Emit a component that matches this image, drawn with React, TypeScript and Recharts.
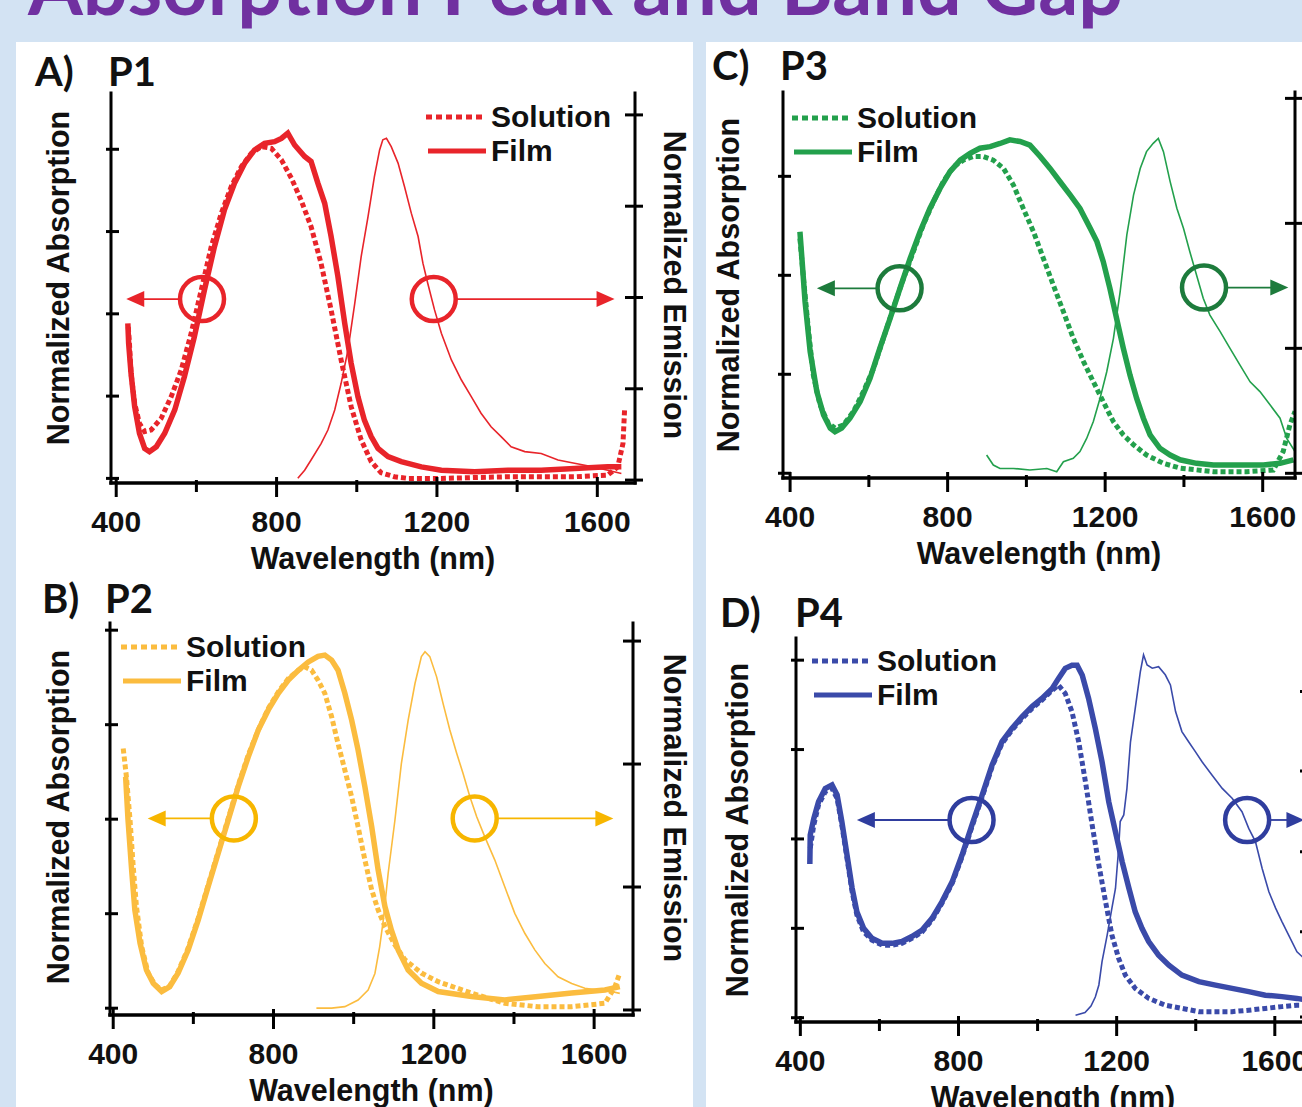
import React from "react";
import { ComposedChart, Line, XAxis, YAxis, ReferenceDot, ReferenceLine, Legend } from "recharts";

type Pt = [number, number];

const FONT = "'Liberation Sans', Arial, sans-serif";
const HEAD_FONT = "Lato, 'Open Sans', sans-serif";

const X_TICKS = [400, 600, 800, 1000, 1200, 1400, 1600];
const X_LABELS = [400, 800, 1200, 1600];

// P1 - wavelength (nm), normalized value
const p1Solution: Pt[] = [[430,0.46],[433,0.410],[437,0.319],[446,0.228],[458,0.167],[471,0.142],[487,0.147],[512,0.182],[537,0.248],[562,0.329],[587,0.441],[612,0.572],[637,0.704],[662,0.805],[687,0.887],[712,0.947],[737,0.988],[762,1.008],[787,1.003],[812,0.968],[837,0.912],[861,0.846],[886,0.765],[911,0.653],[936,0.512],[961,0.360],[986,0.218],[1011,0.117],[1036,0.051],[1061,0.017],[1094,0.005],[1128,0],[1211,0],[1377,0.005],[1543,0.005],[1626,0.010],[1651,0.035],[1664,0.106],[1668,0.208]];
const p1Film: Pt[] = [[429,0.471],[431,0.410],[437,0.319],[446,0.218],[458,0.137],[471,0.091],[483,0.081],[500,0.096],[521,0.137],[546,0.208],[570,0.309],[595,0.431],[620,0.572],[645,0.704],[670,0.816],[695,0.897],[720,0.957],[745,0.998],[770,1.018],[795,1.023],[812,1.033],[828,1.049],[845,1.013],[870,0.978],[886,0.963],[903,0.897],[920,0.836],[936,0.735],[953,0.613],[970,0.471],[986,0.350],[1003,0.248],[1019,0.177],[1036,0.127],[1053,0.091],[1078,0.066],[1111,0.051],[1161,0.035],[1211,0.025],[1294,0.020],[1377,0.025],[1460,0.025],[1543,0.030],[1626,0.035],[1660,0.035]];
const p1Emission: Pt[] = [[853,0.005],[870,0.027],[886,0.055],[911,0.100],[928,0.137],[945,0.192],[961,0.265],[978,0.356],[995,0.484],[1011,0.612],[1028,0.721],[1044,0.831],[1057,0.904],[1065,0.932],[1074,0.936],[1086,0.913],[1103,0.868],[1119,0.804],[1136,0.731],[1153,0.667],[1165,0.594],[1177,0.539],[1194,0.466],[1211,0.402],[1236,0.329],[1261,0.274],[1286,0.228],[1310,0.183],[1335,0.146],[1360,0.119],[1385,0.091],[1419,0.078],[1460,0.073],[1502,0.055],[1543,0.046],[1585,0.037],[1626,0.027],[1660,0.018]];
const p1Circles: Pt[] = [[614,0.545],[1192,0.545]];
const p1Arrows: [number, number, number][] = [[556,425,0.545],[1248,1643,0.545]];

// P2
const p2Solution: Pt[] = [[425,0.687],[433,0.612],[442,0.498],[450,0.374],[458,0.269],[471,0.163],[487,0.093],[504,0.062],[521,0.048],[541,0.059],[562,0.097],[587,0.159],[612,0.238],[637,0.326],[662,0.414],[687,0.502],[712,0.590],[737,0.670],[762,0.736],[787,0.793],[812,0.837],[837,0.872],[862,0.894],[878,0.903],[895,0.894],[911,0.868],[928,0.833],[945,0.771],[961,0.700],[978,0.630],[995,0.559],[1011,0.480],[1028,0.392],[1045,0.313],[1061,0.260],[1078,0.216],[1103,0.167],[1128,0.128],[1169,0.093],[1211,0.070],[1294,0.040],[1377,0.013],[1460,0.004],[1544,0.004],[1627,0.013],[1652,0.057],[1664,0.093]];
const p2Film: Pt[] = [[431,0.612],[437,0.498],[446,0.366],[454,0.260],[467,0.172],[483,0.101],[500,0.066],[521,0.044],[541,0.057],[562,0.093],[587,0.154],[612,0.233],[637,0.322],[662,0.410],[687,0.498],[712,0.586],[737,0.665],[762,0.736],[787,0.789],[812,0.833],[837,0.868],[862,0.894],[887,0.916],[911,0.931],[928,0.934],[945,0.921],[961,0.894],[978,0.833],[995,0.762],[1011,0.683],[1028,0.586],[1045,0.480],[1061,0.366],[1078,0.269],[1094,0.207],[1111,0.154],[1136,0.101],[1169,0.066],[1211,0.044],[1294,0.031],[1377,0.022],[1460,0.031],[1544,0.040],[1627,0.048],[1664,0.057]];
const p2Emission: Pt[] = [[907,0.005],[945,0.005],[978,0.009],[1011,0.027],[1036,0.054],[1053,0.099],[1065,0.172],[1074,0.244],[1086,0.370],[1103,0.515],[1119,0.668],[1136,0.786],[1153,0.885],[1169,0.958],[1178,0.971],[1190,0.958],[1207,0.903],[1223,0.831],[1240,0.759],[1257,0.696],[1273,0.641],[1290,0.578],[1307,0.524],[1327,0.470],[1352,0.407],[1377,0.334],[1402,0.262],[1427,0.208],[1452,0.163],[1477,0.126],[1510,0.090],[1544,0.072],[1577,0.059],[1610,0.054],[1643,0.050],[1664,0.045]];
const p2Circles: Pt[] = [[701,0.502],[1302,0.502]];
const p2Arrows: [number, number, number][] = [[644,486,0.502],[1361,1648,0.502]];

// P3
const p3Solution: Pt[] = [[425,0.593],[434,0.492],[447,0.358],[459,0.248],[476,0.173],[497,0.126],[514,0.114],[535,0.122],[561,0.156],[586,0.206],[612,0.265],[637,0.341],[662,0.417],[688,0.492],[713,0.560],[738,0.627],[764,0.686],[789,0.737],[815,0.774],[840,0.791],[865,0.800],[891,0.800],[916,0.791],[942,0.770],[967,0.728],[992,0.669],[1018,0.610],[1043,0.543],[1068,0.476],[1094,0.408],[1119,0.341],[1145,0.282],[1170,0.231],[1195,0.181],[1221,0.130],[1246,0.097],[1272,0.072],[1305,0.046],[1348,0.025],[1390,0.013],[1475,0.004],[1559,0.004],[1627,0.008],[1652,0.055],[1669,0.122],[1682,0.156]];
const p3Film: Pt[] = [[425,0.610],[430,0.543],[438,0.434],[451,0.307],[468,0.206],[485,0.147],[502,0.114],[514,0.105],[531,0.114],[552,0.139],[578,0.181],[603,0.240],[628,0.316],[654,0.391],[679,0.467],[705,0.543],[730,0.610],[755,0.669],[781,0.720],[806,0.762],[832,0.791],[857,0.808],[882,0.821],[908,0.825],[933,0.833],[958,0.842],[984,0.838],[1009,0.829],[1035,0.800],[1060,0.770],[1085,0.737],[1111,0.703],[1136,0.669],[1162,0.619],[1179,0.585],[1195,0.535],[1212,0.467],[1229,0.391],[1246,0.316],[1263,0.248],[1280,0.189],[1297,0.139],[1314,0.097],[1339,0.063],[1365,0.046],[1390,0.034],[1432,0.025],[1475,0.021],[1517,0.021],[1559,0.021],[1602,0.021],[1644,0.025],[1678,0.034]];
const p3Emission: Pt[] = [[899,0.049],[916,0.022],[933,0.013],[967,0.013],[1009,0.009],[1052,0.013],[1077,0.004],[1094,0.031],[1119,0.040],[1136,0.058],[1153,0.093],[1170,0.138],[1187,0.200],[1204,0.271],[1221,0.360],[1238,0.484],[1255,0.636],[1272,0.742],[1289,0.813],[1305,0.858],[1322,0.880],[1335,0.893],[1348,0.858],[1365,0.778],[1382,0.707],[1399,0.653],[1415,0.591],[1432,0.529],[1449,0.467],[1466,0.422],[1492,0.378],[1517,0.333],[1542,0.289],[1568,0.244],[1593,0.218],[1619,0.182],[1644,0.147],[1661,0.093],[1682,0.058]];
const p3Circles: Pt[] = [[678,0.467],[1451,0.469]];
const p3Arrows: [number, number, number][] = [[620,468,0.467],[1509,1665,0.469]];

// P4
const p4Solution: Pt[] = [[425,0.474],[434,0.539],[446,0.595],[463,0.632],[480,0.641],[493,0.613],[505,0.539],[518,0.446],[531,0.352],[543,0.287],[560,0.240],[581,0.217],[607,0.203],[632,0.203],[657,0.208],[682,0.222],[708,0.240],[733,0.273],[758,0.320],[784,0.376],[809,0.450],[834,0.534],[860,0.618],[885,0.702],[910,0.767],[935,0.804],[961,0.837],[986,0.865],[1011,0.888],[1037,0.916],[1053,0.930],[1070,0.907],[1087,0.856],[1104,0.772],[1121,0.660],[1138,0.539],[1155,0.427],[1172,0.324],[1188,0.231],[1205,0.166],[1222,0.119],[1247,0.082],[1281,0.054],[1323,0.035],[1365,0.026],[1408,0.017],[1450,0.017],[1492,0.017],[1534,0.021],[1576,0.026],[1618,0.031],[1656,0.035],[1685,0.035]];
const p4Film: Pt[] = [[424,0.43],[425,0.511],[434,0.557],[446,0.604],[463,0.641],[480,0.651],[493,0.623],[505,0.548],[518,0.455],[531,0.362],[543,0.296],[560,0.250],[581,0.222],[607,0.208],[632,0.208],[657,0.213],[682,0.227],[708,0.245],[733,0.278],[758,0.324],[784,0.380],[809,0.455],[834,0.539],[860,0.623],[885,0.707],[910,0.772],[935,0.809],[961,0.842],[986,0.870],[1011,0.893],[1037,0.921],[1053,0.949],[1070,0.977],[1087,0.986],[1100,0.986],[1113,0.958],[1129,0.893],[1146,0.809],[1163,0.716],[1180,0.604],[1197,0.520],[1214,0.436],[1231,0.362],[1247,0.296],[1264,0.250],[1281,0.213],[1306,0.175],[1332,0.147],[1365,0.119],[1408,0.101],[1450,0.091],[1492,0.082],[1534,0.073],[1576,0.063],[1618,0.059],[1656,0.054],[1685,0.049]];
const p4Emission: Pt[] = [[1096,0.005],[1120,0.012],[1135,0.03],[1146,0.055],[1155,0.088],[1163,0.152],[1176,0.225],[1188,0.299],[1197,0.353],[1205,0.463],[1209,0.537],[1218,0.555],[1226,0.628],[1235,0.756],[1247,0.848],[1260,0.949],[1268,0.995],[1277,0.967],[1290,0.958],[1306,0.962],[1323,0.940],[1336,0.912],[1349,0.839],[1365,0.784],[1382,0.756],[1399,0.729],[1416,0.701],[1441,0.665],[1467,0.628],[1492,0.601],[1517,0.564],[1534,0.518],[1551,0.482],[1568,0.408],[1585,0.344],[1602,0.299],[1618,0.262],[1635,0.225],[1656,0.179],[1675,0.16]];
const p4Circles: Pt[] = [[833,0.553],[1530,0.553]];
const p4Arrows: [number, number, number][] = [[779,543,0.553],[1589,1675,0.553]];

interface PanelCfg {
  letter: string;
  name: string;
  color: string;
  mark: string;
  plot: { left: number; top: number; right: number; bottom: number };
  xDomain: [number, number];
  absDomain: [number, number];
  absTicks: number[];
  emDomain: [number, number];
  emTicks: number[];
  solution: Pt[];
  film: Pt[];
  emission: Pt[];
  circles: Pt[];
  arrows: [number, number, number][];
  legend: { x: number; y: number };
  head: { lx: number; nx: number; base: number };
  absTitle: { dx: number; dy: number };
  emTitle: { dx: number; dy: number } | null;
}

const PANELS: PanelCfg[] = [
  {
    letter: "A)", name: "P1", color: "#e8242a", mark: "#e8242a",
    plot: { left: 111, top: 93, right: 635, bottom: 483 },
    xDomain: [387, 1694], absDomain: [-0.014, 1.171], absTicks: [0, 0.25, 0.5, 0.75, 1],
    emDomain: [-0.008, 1.06], emTicks: [0, 0.25, 0.5, 0.75, 1],
    solution: p1Solution, film: p1Film, emission: p1Emission, circles: p1Circles, arrows: p1Arrows,
    legend: { x: 426, y: 117 }, head: { lx: 35, nx: 108, base: 86 },
    absTitle: { dx: -53, dy: -10 }, emTitle: { dx: 40, dy: -3 },
  },
  {
    letter: "B)", name: "P2", color: "#fbbc3f", mark: "#f7b600",
    plot: { left: 110, top: 623, right: 633, bottom: 1015 },
    xDomain: [392, 1697], absDomain: [-0.018, 1.019], absTicks: [0, 0.25, 0.5, 0.75, 1],
    emDomain: [-0.0136, 1.049], emTicks: [0, 1 / 3, 2 / 3, 1],
    solution: p2Solution, film: p2Film, emission: p2Emission, circles: p2Circles, arrows: p2Arrows,
    legend: { x: 121, y: 647 }, head: { lx: 42, nx: 105, base: 613 },
    absTitle: { dx: -52, dy: -2 }, emTitle: { dx: 42, dy: -11 },
  },
  {
    letter: "C)", name: "P3", color: "#23a04c", mark: "#1d7b3c",
    plot: { left: 783, top: 92, right: 1295, bottom: 478 },
    xDomain: [382, 1682], absDomain: [-0.012, 0.963], absTicks: [0, 0.25, 0.5, 0.75],
    emDomain: [-0.0125, 1.017], emTicks: [0, 1 / 3, 2 / 3, 1],
    solution: p3Solution, film: p3Film, emission: p3Emission, circles: p3Circles, arrows: p3Arrows,
    legend: { x: 792, y: 118 }, head: { lx: 712, nx: 780, base: 80 },
    absTitle: { dx: -55, dy: 0 }, emTitle: null,
  },
  {
    letter: "D)", name: "P4", color: "#3a4aa9", mark: "#2f3d9e",
    plot: { left: 796, top: 638, right: 1310, bottom: 1022 },
    xDomain: [389, 1689], absDomain: [-0.012, 1.062], absTicks: [0, 0.25, 0.5, 0.75, 1],
    emDomain: [-0.0137, 1.041], emTicks: [0, 0.234, 0.454, 0.676, 0.894],
    solution: p4Solution, film: p4Film, emission: p4Emission, circles: p4Circles, arrows: p4Arrows,
    legend: { x: 812, y: 661 }, head: { lx: 720, nx: 795, base: 627 },
    absTitle: { dx: -59, dy: 0 }, emTitle: null,
  },
];

const AXW = 100;
const AXR = 80;
const AXB = 100;
const MT = 10;

const tickStyle = { fontFamily: FONT, fontWeight: 700, fontSize: 30, fill: "#111" };
const titleStyle = { fontFamily: FONT, fontWeight: 700, fontSize: 30.5, fill: "#111" };

const XTick = (props: any) => {
  const { x, y, payload } = props;
  const major = X_LABELS.includes(payload.value);
  return (
    <g>
      <line x1={x} x2={x} y1={y - (major ? 6 : 3)} y2={y + (major ? 14 : 9)} stroke="#000" strokeWidth={3} />
      {major && (
        <text x={x} y={y + 49} textAnchor="middle" style={tickStyle}>
          {payload.value}
        </text>
      )}
    </g>
  );
};

const YTickLeft = (props: any) => (
  <line x1={props.x - 5} x2={props.x + 8} y1={props.y} y2={props.y} stroke="#000" strokeWidth={3} />
);
const YTickRight = (props: any) => (
  <line x1={props.x - 10} x2={props.x + 8} y1={props.y} y2={props.y} stroke="#000" strokeWidth={3} />
);

const arrowShape = (color: string) => (p: any) => {
  const { x1, y1, x2, y2 } = p;
  const dir = x2 > x1 ? 1 : -1;
  return (
    <g>
      <line x1={x1} y1={y1} x2={x2 - dir * 12} y2={y2} stroke={color} strokeWidth={1.8} />
      <polygon points={`${x2},${y2} ${x2 - dir * 18},${y2 - 8} ${x2 - dir * 18},${y2 + 8}`} fill={color} />
    </g>
  );
};

const LegendBox = ({ c }: { c: PanelCfg }) => (
  <div style={{ fontFamily: FONT, fontWeight: 700, fontSize: 30, color: "#111" }}>
    {[["Solution", true], ["Film", false]].map(([label, dashed]) => (
      <div key={label as string} style={{ display: "flex", alignItems: "center", height: 34, lineHeight: "34px" }}>
        <svg width={65} height={34} style={{ flex: "none" }}>
          <line
            x1={dashed ? 0 : 2}
            x2={dashed ? 56 : 60}
            y1={17}
            y2={17}
            stroke={c.color}
            strokeWidth={dashed ? 5 : 5}
            strokeDasharray={dashed ? "6 4" : undefined}
          />
        </svg>
        <span>{label as string}</span>
      </div>
    ))}
  </div>
);

function Panel({ c }: { c: PanelCfg }) {
  const pw = c.plot.right - c.plot.left;
  const ph = c.plot.bottom - c.plot.top;
  const left = c.plot.left - AXW;
  const top = c.plot.top - MT;
  const toRows = (pts: Pt[]) => pts.map(([nm, v]) => ({ nm, v }));

  const yTitle = (text: string, dx: number, dy: number, side: "l" | "r") => (props: any) => {
    const vb = props.viewBox;
    const cx = (side === "l" ? vb.x + vb.width : vb.x) + dx;
    const cy = vb.y + vb.height / 2 + dy;
    return (
      <text
        x={cx}
        y={cy}
        transform={`rotate(${side === "l" ? -90 : 90} ${cx} ${cy})`}
        textAnchor="middle"
        dominantBaseline="central"
        style={titleStyle}
      >
        {text}
      </text>
    );
  };
  const xTitle = (props: any) => {
    const vb = props.viewBox;
    return (
      <text x={vb.x + vb.width / 2} y={vb.y + 86} textAnchor="middle" style={titleStyle}>
        Wavelength (nm)
      </text>
    );
  };

  const axisLine = { stroke: "#000", strokeWidth: 3, strokeLinecap: "square" as const };

  return (
    <div style={{ position: "absolute", left, top }}>
      <ComposedChart width={pw + AXW + AXR} height={ph + MT + AXB} margin={{ top: MT, right: 0, bottom: 0, left: 0 }}>
        <XAxis
          xAxisId="b"
          dataKey="nm"
          type="number"
          domain={c.xDomain}
          ticks={X_TICKS}
          interval={0}
          allowDataOverflow
          height={AXB}
          axisLine={{ ...axisLine, strokeWidth: 3.5 }}
          tickLine={false}
          tickSize={0}
          tickMargin={0}
          tick={XTick}
          label={{ content: xTitle }}
        />
        <XAxis
          xAxisId="t"
          orientation="top"
          type="number"
          dataKey="nm"
          domain={c.xDomain}
          allowDataOverflow
          height={0}
          axisLine={axisLine}
          tick={false}
          tickLine={false}
        />
        <YAxis
          yAxisId="abs"
          type="number"
          domain={c.absDomain}
          ticks={c.absTicks}
          interval={0}
          allowDataOverflow
          width={AXW}
          axisLine={axisLine}
          tickLine={false}
          tickSize={0}
          tickMargin={0}
          tick={YTickLeft}
          label={{ content: yTitle("Normalized Absorption", c.absTitle.dx, c.absTitle.dy, "l") }}
        />
        <YAxis
          yAxisId="em"
          orientation="right"
          type="number"
          domain={c.emDomain}
          ticks={c.emTicks}
          interval={0}
          allowDataOverflow
          width={AXR}
          axisLine={axisLine}
          tickLine={false}
          tickSize={0}
          tickMargin={0}
          tick={YTickRight}
          label={c.emTitle ? { content: yTitle("Normalized Emission", c.emTitle.dx, c.emTitle.dy, "r") } : undefined}
        />
        <Legend
          layout="vertical"
          align="center"
          verticalAlign="middle"
          wrapperStyle={{ left: c.legend.x - left, top: c.legend.y - 17 - top, width: 220, height: 68 }}
          content={() => <LegendBox c={c} />}
        />
        <Line xAxisId="b" yAxisId="em" data={toRows(c.emission)} dataKey="v" name="Emission" type="linear"
          stroke={c.color} strokeWidth={1.6} dot={false} isAnimationActive={false} legendType="none" />
        <Line xAxisId="b" yAxisId="abs" data={toRows(c.solution)} dataKey="v" name="Solution" type="linear"
          stroke={c.color} strokeWidth={5} strokeDasharray="5 3" dot={false} isAnimationActive={false} />
        <Line xAxisId="b" yAxisId="abs" data={toRows(c.film)} dataKey="v" name="Film" type="linear"
          stroke={c.color} strokeWidth={5.5} dot={false} isAnimationActive={false} />
        {c.circles.map(([nm, v], i) => (
          <ReferenceDot key={`c${i}`} xAxisId="b" yAxisId="abs" x={nm} y={v} r={22}
            fill="none" stroke={c.mark} strokeWidth={4.5} ifOverflow="visible" />
        ))}
        {c.arrows.map(([from, to, v], i) => (
          <ReferenceLine key={`a${i}`} xAxisId="b" yAxisId="abs" ifOverflow="visible"
            segment={[{ x: from, y: v }, { x: to, y: v }]} stroke={c.mark} shape={arrowShape(c.mark)} />
        ))}
      </ComposedChart>
    </div>
  );
}

export default function App() {
  return (
    <div style={{ position: "fixed", left: 0, top: 0, width: 1302, height: 1107, overflow: "hidden", background: "#d3e3f3" }}>
      <div style={{ position: "absolute", left: 16, top: 42, width: 677, height: 1065, background: "#fff" }} />
      <div style={{ position: "absolute", left: 706, top: 42, width: 596, height: 1065, background: "#fff" }} />
      <svg width={1302} height={1107} style={{ position: "absolute", left: 0, top: 0 }}>
        <text x={28} y={15} style={{ fontFamily: HEAD_FONT, fontWeight: 700, fontSize: 79, fill: "#7030a0" }}>
          Absorption Peak and Band Gap
        </text>
        {PANELS.map((c) => (
          <g key={c.name} style={{ fontFamily: HEAD_FONT, fontWeight: 700, fontSize: 40, fill: "#111" }}>
            <text x={c.head.lx} y={c.head.base}>{c.letter}</text>
            <text x={c.head.nx} y={c.head.base}>{c.name}</text>
          </g>
        ))}
      </svg>
      {PANELS.map((c) => (
        <Panel key={c.name} c={c} />
      ))}
    </div>
  );
}
